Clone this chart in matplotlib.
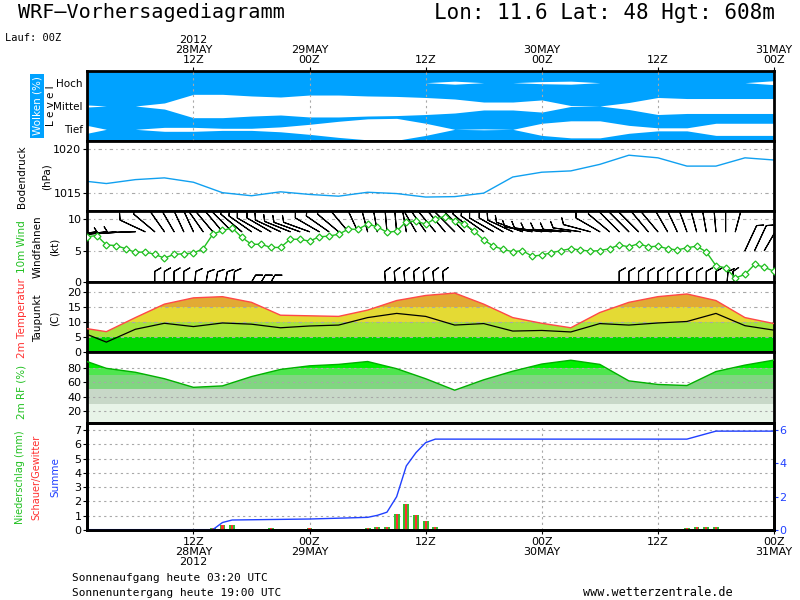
import matplotlib
matplotlib.use("Agg")
import matplotlib.pyplot as plt
import numpy as np

plt.rcParams['font.family'] = 'DejaVu Sans'
plt.rcParams['font.size'] = 8

# hours after 28 May 2012 00Z
hours_3h = [1, 3, 6, 9, 12, 15, 18, 21, 24, 27, 30, 33, 36,
            39, 42, 45, 48, 51, 54, 57, 60, 63, 66, 69, 72]
hours_1h = list(range(1, 73))

# cloud cover per level (%)
cloud_high = [100, 100, 100, 100, 100, 100, 100, 100, 100, 100, 100, 100, 100,
              87, 100, 100, 91, 87, 100, 100, 100, 100, 100, 100, 83]
cloud_mid = [91, 100, 100, 74, 0, 0, 14, 23, 6, 6, 14, 18, 27,
             40, 66, 66, 48, 96, 100, 70, 27, 36, 36, 36, 36]
cloud_low = [66, 100, 100, 83, 83, 91, 91, 79, 57, 31, 10, 6, 48,
             100, 96, 100, 48, 27, 27, 66, 87, 87, 48, 48, 48]

# surface pressure (hPa)
pressure = [1016.3, 1016.05, 1016.5, 1016.7, 1016.2, 1015.0, 1014.65, 1015.1,
            1014.8, 1014.6, 1015.05, 1014.9, 1014.5, 1014.55, 1014.95, 1016.8,
            1017.35, 1017.5, 1018.25, 1019.3, 1019.0, 1018.05, 1018.05, 1019.0,
            1018.75]

# 10 m wind speed (kt), hourly
wind_kt = [7.2, 7.4, 5.9, 5.8, 5.3, 4.7, 4.8, 4.4, 3.8, 4.4, 4.5, 4.6,
           5.3, 7.6, 8.2, 8.6, 7.1, 6.0, 6.0, 5.5, 5.5, 6.8, 6.8, 6.5,
           7.2, 7.3, 7.6, 8.4, 8.4, 9.2, 8.8, 7.9, 8.1, 9.6, 9.7, 9.2,
           10.1, 10.4, 9.7, 9.2, 8.1, 6.7, 5.7, 5.2, 4.8, 5.0, 4.1, 4.3,
           4.65, 5.0, 5.3, 5.1, 4.9, 5.0, 5.3, 5.9, 5.6, 6.1, 5.6, 5.7,
           5.3, 5.1, 5.45, 5.7, 4.8, 2.6, 2.25, 0.65, 1.2, 2.8, 2.35, 1.7]

# wind direction of the barbs (deg, from), hourly
barb_dir = [262, 262, 263, 265, 266, 268, 295, 310, 325, 330, 335, 335,
            325, 320, 320, 315, 310, 305, 300, 300, 295, 292, 290, 290,
            300, 305, 310, 320, 335, 345, 350, 355, 355, 350, 330, 325,
            320, 320, 315, 315, 310, 305, 300, 300, 295, 290, 280, 278,
            275, 275, 275, 278, 285, 300, 310, 315, 315, 315, 320, 320,
            330, 335, 340, 345, 350, 355, 0, 15, 25, 25, 30, 30]

# lower row of barbs
barb_low_hours = [8, 9, 10, 11, 12, 13, 14, 15, 16, 17, 18, 19,
                  32, 33, 34, 35, 36, 37, 38,
                  56, 57, 58, 59, 60, 61, 62, 63, 64, 65, 66, 67, 68]
barb_low_dir = [0, 0, 0, 0, 5, 10, 10, 10, 5, 30, 30, 30,
                355, 355, 355, 355, 355, 355, 355,
                0, 0, 0, 0, 0, 0, 0, 0, 0, 0, 0, 5, 355]

# 2 m temperature and dew point (C)
temperature = [7.8, 6.8, 11.5, 16.0, 18.1, 18.5, 16.6, 12.3, 12.1, 11.9, 14.0,
               17.2, 18.9, 19.7, 16.0, 11.5, 9.6, 8.1, 13.2, 16.6, 18.5, 19.4,
               17.2, 11.5, 9.5]
dewpoint = [5.9, 3.3, 7.6, 9.6, 8.5, 9.7, 9.3, 8.1, 8.7, 9.0, 11.5, 12.9,
            11.9, 9.0, 9.5, 7.0, 7.2, 6.7, 9.5, 9.0, 9.7, 10.2, 12.9, 8.8, 7.3]

# 2 m relative humidity (%)
humidity = [89, 79.5, 74, 65, 53, 55, 68, 78, 83, 85, 89, 79, 65,
            49, 63.5, 75.5, 85.5, 90.8, 85, 62, 57, 55.5, 75, 84, 91]

# precipitation (mm)
precip_hours = [14, 15, 16, 20, 24, 30, 31, 32, 33, 34, 35, 36, 37, 63, 64, 65, 66]
precip_mm = [0.14, 0.38, 0.33, 0.14, 0.14, 0.14, 0.2, 0.2, 1.15, 1.8, 1.08,
             0.66, 0.21, 0.14, 0.21, 0.21, 0.21]
shower_mm = [0.14, 0.38, 0.33, 0.14, 0.14, 0.14, 0.2, 0.2, 1.15, 1.8, 1.08,
             0.66, 0.21, 0.14, 0.21, 0.21, 0.21]
sum_hours = [1, 14, 15, 16, 24, 30, 31, 32, 33, 34, 35, 36, 37, 63, 66, 72]
precip_sum = [0.02, 0.02, 0.45, 0.6, 0.66, 0.76, 0.88, 1.07, 2.0, 3.85, 4.65,
              5.25, 5.46, 5.46, 5.94, 5.94]

time_ticks = [12, 24, 36, 48, 60, 72]
top_labels = ['2012\n28MAY\n12Z', '29MAY\n00Z', '12Z', '30MAY\n00Z', '12Z', '31MAY\n00Z']
bottom_labels = ['12Z\n28MAY\n2012', '00Z\n29MAY', '12Z', '00Z\n30MAY', '12Z', '00Z\n31MAY']

W, H = 800, 600
fig = plt.figure(figsize=(8, 6), dpi=100)
mono = 'DejaVu Sans Mono'


def panel(top, bottom):
    ax = fig.add_axes([87 / W, 1 - bottom / H, (774 - 87) / W, (bottom - top) / H])
    ax.set_xlim(1, 72)
    for s in ax.spines.values():
        s.set_linewidth(2)
    ax.tick_params(axis='x', bottom=False, labelbottom=False)
    ax.tick_params(axis='y', direction='out', length=3, width=0.8, pad=1, labelsize=8)
    return ax


def ftext(x, y, s, **kw):
    fig.text(x / W, 1 - y / H, s, ha='center', va='center', **kw)


def banded_fill(ax, x, y, bands):
    # colour the area under a curve by horizontal value bands
    shape = ax.fill_between(x, 0, y, facecolor='none', lw=0)
    path = shape.get_paths()[0]
    for lo, hi, col in bands:
        span = ax.axhspan(lo, hi, color=col, lw=0, zorder=0.5)
        span.set_clip_path(path, ax.transData)


grid_kw = dict(color='#a8a8a8', lw=0.8, linestyle=(0, (2, 3)))
dashdot = dict(color='#a8a8a8', lw=0.8, linestyle=(0, (3, 3, 1, 3)))

# ---- clouds
blue = '#00a2ff'
ax_c = panel(71, 141)
ax_c.set_facecolor(blue)
ax_c.set_ylim(0, 3)
for centre, cover in [(2.5, cloud_high), (1.5, cloud_mid), (0.5, cloud_low)]:
    gap = (100 - np.array(cover)) / 100.0
    ax_c.fill_between(hours_3h, centre - gap / 2, centre + gap / 2,
                      color='white', lw=0)
for t in time_ticks[:-1]:
    ax_c.axvline(t, zorder=3, **grid_kw)
ax_c.set_yticks([2.5, 1.5, 0.5], ['Hoch', 'Mittel', 'Tief'])
ax_c.tick_params(axis='y', length=0, pad=3, labelsize=7.5)
ax_c.tick_params(axis='x', top=True, labeltop=True, direction='out',
                 length=3, pad=1, labelsize=8)
ax_c.set_xticks(time_ticks, top_labels, linespacing=1.0)

# ---- pressure
ax_pr = panel(141, 211)
ax_pr.plot(hours_3h, pressure, color='#10a0f0', lw=1)
ax_pr.set_ylim(1012.9, 1020.93)
ax_pr.set_yticks([1015, 1020])
for v in [1015, 1020]:
    ax_pr.axhline(v, zorder=0, **dashdot)

# ---- wind
ax_w = panel(211, 282)
for v in [5, 10]:
    ax_w.axhline(v, zorder=0, **dashdot)
barb_kw = dict(length=6.3, linewidth=0.8, color='black',
               sizes=dict(height=0.22, spacing=0.15), clip_on=True, zorder=3)
d = np.radians(barb_dir)
top_level = np.where(np.array(hours_1h) > 68, 5.0, 8.0)
ax_w.barbs(hours_1h, top_level, -10 * np.sin(d), -10 * np.cos(d), **barb_kw)
dl = np.radians(barb_low_dir)
ax_w.barbs(barb_low_hours, np.full(len(barb_low_hours), -2.7),
           -10 * np.sin(dl), -10 * np.cos(dl), **barb_kw)
ax_w.plot(hours_1h, wind_kt, color='#20c020', lw=1, marker='D', ms=3.5,
          mfc='white', mec='#20c020', mew=0.9, zorder=4)
ax_w.set_ylim(0, 11.3)
ax_w.set_yticks([0, 5, 10])

# ---- temperature
ax_t = panel(282, 352)
banded_fill(ax_t, hours_3h, temperature,
            [(0, 5, '#00d800'), (5, 10, '#a6e43c'), (10, 15, '#e4da34'),
             (15, 20, '#e2aa34'), (20, 30, '#e07c30')])
for v in [5, 10, 15, 20]:
    ax_t.axhline(v, zorder=1, **dashdot)
ax_t.plot(hours_3h, temperature, color='#ff4848', lw=1, zorder=3)
ax_t.plot(hours_3h, dewpoint, color='black', lw=0.9, zorder=3)
ax_t.set_ylim(0, 23.4)
ax_t.set_yticks([0, 5, 10, 15, 20])

# ---- humidity
ax_h = panel(352, 423)
banded_fill(ax_h, hours_3h, humidity,
            [(0, 30, '#e8f4e8'), (30, 50, '#c8d8c8'), (50, 70, '#80d680'),
             (70, 80, '#4ee64e'), (80, 101, '#00ee00')])
for v in [20, 40, 60, 80]:
    ax_h.axhline(v, zorder=1, **grid_kw)
ax_h.plot(hours_3h, humidity, color='#00b000', lw=1, zorder=3)
ax_h.set_ylim(3.2, 102.3)
ax_h.set_yticks([20, 40, 60, 80])

# ---- precipitation
ax_p = panel(423, 530)
for v in range(1, 8):
    ax_p.axhline(v, zorder=0, **grid_kw)
for t in time_ticks[:-1]:
    ax_p.axvline(t, zorder=0, **grid_kw)
ax_p.bar(precip_hours, precip_mm, width=0.6, color='#30c030', zorder=2)
ax_p.bar(precip_hours, shower_mm, width=0.22, color='#ff3030', zorder=3)
ax_p.set_ylim(0, 7.5)
ax_p.set_yticks(range(8))
ax_p.tick_params(axis='x', bottom=True, labelbottom=True, direction='out',
                 length=3, pad=2, labelsize=8)
ax_p.set_xticks(time_ticks, bottom_labels, linespacing=1.0)
ax_p2 = ax_p.twinx()
ax_p2.plot(sum_hours, precip_sum, color='#2040ff', lw=1)
ax_p2.set_ylim(0, 6 * 7.5 / 7)
ax_p2.set_yticks([0, 2, 4, 6])
ax_p2.tick_params(axis='y', colors='#2040ff', direction='out', length=3, pad=1, labelsize=8)
for s in ax_p2.spines.values():
    s.set_linewidth(2)
    s.set_color('black')

# ---- texts
fig.text(18 / W, 1 - 13 / H, 'WRF\u2013Vorhersagediagramm', fontsize=14.5,
         family=mono, va='center', ha='left')
fig.text(775 / W, 1 - 13 / H, 'Lon: 11.6 Lat: 48 Hgt: 608m', fontsize=15,
         family=mono, va='center', ha='right')
fig.text(5 / W, 1 - 38 / H, 'Lauf: 00Z', fontsize=7.5, family=mono, va='center', ha='left')

ftext(37, 106, 'Wolken (%)', rotation=90, color='white', fontsize=7.5,
      bbox=dict(facecolor=blue, edgecolor='none', pad=1.5))
ftext(51, 106, 'L e v e l', rotation=90, fontsize=7.5)
ftext(22, 177, 'Bodendruck', rotation=90, fontsize=7.5)
ftext(47, 177, '(hPa)', rotation=90, fontsize=7.5)
ftext(22, 247, '10m Wind', rotation=90, color='#20c020', fontsize=7.5)
ftext(38, 247, 'Windfahnen', rotation=90, fontsize=7.5)
ftext(55, 247, '(kt)', rotation=90, fontsize=7.5)
ftext(22, 318, '2m Temperatur', rotation=90, color='#ff3030', fontsize=7.5)
ftext(38, 318, 'Taupunkt', rotation=90, fontsize=7.5)
ftext(55, 318, '(C)', rotation=90, fontsize=7.5)
ftext(22, 392, '2m RF (%)', rotation=90, color='#20c020', fontsize=7.5)
ftext(20, 477, 'Niederschlag (mm)', rotation=90, color='#20c020', fontsize=7)
ftext(36, 477, 'Schauer/Gewitter', rotation=90, color='#ff3030', fontsize=7)
ftext(55, 477, 'Summe', rotation=90, color='#2040ff', fontsize=7.5)

fig.text(72 / W, 1 - 578 / H, 'Sonnenaufgang heute 03:20 UTC', fontsize=8,
         family=mono, va='center')
fig.text(72 / W, 1 - 593 / H, 'Sonnenuntergang heute 19:00 UTC', fontsize=8,
         family=mono, va='center')
fig.text(583 / W, 1 - 593 / H, 'www.wetterzentrale.de', fontsize=8.5,
         family=mono, va='center')

fig.savefig('out.png', dpi=100)
